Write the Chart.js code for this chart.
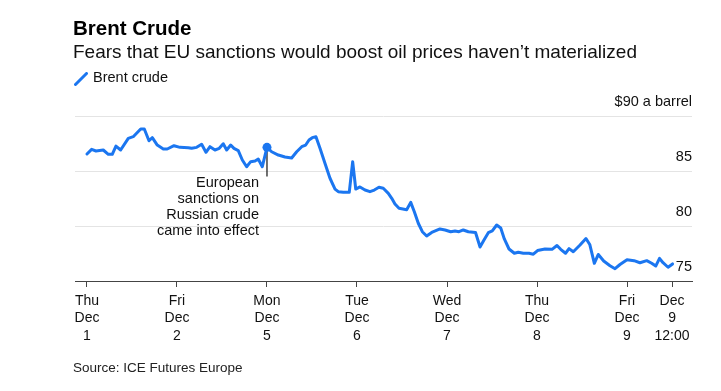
<!DOCTYPE html>
<html>
<head>
<meta charset="utf-8">
<script src="https://cdn.jsdelivr.net/npm/chart.js@4.4.1/dist/chart.umd.min.js"></script>
<style>
html,body{margin:0;padding:0;background:#fff;width:721px;height:391px;overflow:hidden}
#wrap{position:relative;width:721px;height:391px;font-family:"Liberation Sans",Arial,sans-serif;color:#111}
#chart{position:absolute;left:0;top:0}
.t{position:absolute;left:74px;white-space:nowrap;line-height:1}
#title{top:17.5px;left:73px;font-size:20.5px;font-weight:bold;color:#000}
#sub{top:42px;left:73px;font-size:19px}
#legend{top:70px;left:93px;font-size:14.5px}
#legicon{position:absolute;left:74px;top:72px}
#source{top:361px;left:73px;font-size:13.5px;color:#222}
</style>
</head>
<body>
<div id="wrap">
  <canvas id="chart" width="721" height="391"></canvas>
  <div class="t" id="title">Brent Crude</div>
  <div class="t" id="sub">Fears that EU sanctions would boost oil prices haven’t materialized</div>
  <svg id="legicon" width="14" height="14"><line x1="1.5" y1="12.5" x2="12.5" y2="1.5" stroke="#1b76f0" stroke-width="3" stroke-linecap="round"/></svg>
  <div class="t" id="legend">Brent crude</div>
  <div class="t" id="source">Source: ICE Futures Europe</div>
</div>
<script>
// x positions in trading-day units (0 = Thu Dec 1, 1 = Fri Dec 2, 2 = Mon Dec 5, ... 6 = Fri Dec 9)
const days = [0.000,0.052,0.100,0.181,0.237,0.281,0.322,0.374,0.459,0.514,0.597,0.637,0.689,0.726,0.781,0.848,0.892,0.967,
  1.033,1.126,1.163,1.219,1.274,1.322,1.367,1.422,1.470,1.514,1.552,1.597,1.633,1.681,1.726,1.774,1.819,1.867,1.903,1.948,
  2.000,2.052,2.126,2.200,2.274,2.330,2.386,2.430,2.467,2.503,2.544,2.589,2.644,2.700,2.756,2.792,2.848,2.914,2.952,2.986,
  3.033,3.089,3.144,3.192,3.244,3.292,3.348,3.386,3.422,3.467,3.552,3.597,3.637,3.681,3.726,3.774,3.830,3.922,3.978,
  4.041,4.089,4.133,4.181,4.237,4.317,4.367,4.411,4.459,4.503,4.552,4.597,4.637,4.689,4.748,4.792,4.848,4.911,4.959,
  5.006,5.089,5.167,5.222,5.263,5.317,5.356,5.403,5.478,5.544,5.586,5.637,5.681,5.741,5.811,5.867,5.922,
  6.000,6.078,6.144,6.219,6.274,6.319,6.361,6.400,6.456,6.506];
const prices = [86.55,86.97,86.82,86.91,86.52,86.52,87.27,86.91,87.97,88.12,88.82,88.82,87.75,88.03,87.36,87.00,87.00,87.30,
  87.15,87.12,87.06,87.15,87.43,86.70,87.21,86.91,87.06,87.48,86.91,87.36,87.06,86.86,86.00,85.39,85.85,85.91,86.09,85.39,
  87.15,86.75,86.45,86.27,86.18,86.75,87.21,87.36,87.82,88.03,88.12,87.06,85.70,84.34,83.36,83.12,83.06,83.06,85.85,83.36,
  83.55,83.27,83.12,83.27,83.52,83.43,82.97,82.52,82.00,81.61,81.48,82.15,81.30,80.25,79.48,79.09,79.41,79.73,79.64,
  79.48,79.55,79.48,79.64,79.48,79.41,78.09,78.73,79.39,79.55,80.09,79.82,78.82,77.91,77.52,77.61,77.52,77.52,77.44,
  77.77,77.91,77.88,78.23,77.88,77.52,77.94,77.66,78.27,78.86,78.32,76.61,77.41,76.82,76.39,76.12,76.50,
  76.94,76.85,76.66,76.85,76.61,76.36,77.06,76.66,76.25,76.55];

const tickDays = [0, 1, 2, 3, 4, 5, 6, 6.5];
const tickLabels = [['Thu','Dec','1'],['Fri','Dec','2'],['Mon','Dec','5'],['Tue','Dec','6'],
  ['Wed','Dec','7'],['Thu','Dec','8'],['Fri','Dec','9'],['Dec','9','12:00']];
const yTicks = [75, 80, 85, 90];
const yTickLabels = ['75', '80', '85', '$90 a barrel'];

const annotationDay = 2;
const annotationLineEnd = 84.5;
const annotationLines = ['European', 'sanctions on', 'Russian crude', 'came into effect'];

const BLUE = '#1b76f0';
const FONT = '"Liberation Sans", Arial, sans-serif';
const annIdx = days.indexOf(annotationDay);

const notePlugin = {
  id: 'sanctionNote',
  beforeDatasetsDraw(chart) {
    const {ctx, scales: {x, y}} = chart;
    const px = x.getPixelForValue(days[annIdx]);
    const py = y.getPixelForValue(prices[annIdx]);
    const ey = y.getPixelForValue(annotationLineEnd);
    ctx.save();
    ctx.strokeStyle = '#111';
    ctx.lineWidth = 1.2;
    ctx.beginPath();
    ctx.moveTo(px, py);
    ctx.lineTo(px, ey);
    ctx.stroke();
    ctx.restore();
  },
  afterDatasetsDraw(chart) {
    const {ctx, scales: {x, y}} = chart;
    const px = x.getPixelForValue(days[annIdx]);
    const ey = y.getPixelForValue(annotationLineEnd);
    ctx.save();
    ctx.font = '14.5px ' + FONT;
    ctx.fillStyle = '#111';
    ctx.textAlign = 'right';
    ctx.textBaseline = 'alphabetic';
    annotationLines.forEach((t, k) => ctx.fillText(t, px - 8, ey + 10 + k * 16));
    ctx.restore();
  }
};

new Chart(document.getElementById('chart'), {
  type: 'line',
  data: {
    datasets: [{
      label: 'Brent crude',
      data: days.map((d, i) => ({x: d, y: prices[i]})),
      borderColor: BLUE,
      backgroundColor: BLUE,
      borderWidth: 3,
      borderJoinStyle: 'round',
      borderCapStyle: 'round',
      tension: 0,
      pointRadius: c => c.dataIndex === annIdx ? 4.5 : 0,
      pointBorderWidth: 0,
      pointHoverRadius: 0
    }]
  },
  options: {
    responsive: false,
    animation: false,
    events: [],
    layout: {padding: {left: 75, right: 29, top: 116, bottom: 0}},
    plugins: {legend: {display: false}, tooltip: {enabled: false}},
    scales: {
      x: {
        type: 'linear', min: -0.133, max: 6.722,
        afterBuildTicks: s => { s.ticks = tickDays.map(v => ({value: v})); },
        afterFit: s => { s.height = 110; },
        grid: {drawOnChartArea: false, drawTicks: true, tickLength: 6, color: '#444', lineWidth: 1},
        border: {display: true, color: '#444', width: 1},
        ticks: {
          autoSkip: false, maxRotation: 0, minRotation: 0, padding: 5, color: '#111',
          font: {family: FONT, size: 14, lineHeight: 1.25},
          callback: v => { const i = tickDays.indexOf(v); return i >= 0 ? tickLabels[i] : ''; }
        }
      },
      y: {
        position: 'right', min: 75, max: 90,
        afterBuildTicks: s => { s.ticks = yTicks.map(v => ({value: v})); },
        afterFit: s => { s.width = 0; },
        grid: {drawTicks: false, lineWidth: 1, color: c => (c.tick && c.tick.value === 75) ? 'rgba(0,0,0,0)' : '#e4e4e4'},
        border: {display: false},
        ticks: {
          mirror: true, padding: 0, labelOffset: -14, color: '#111',
          font: {family: FONT, size: 14.5},
          callback: v => { const i = yTicks.indexOf(v); return i >= 0 ? yTickLabels[i] : ''; }
        }
      }
    }
  },
  plugins: [notePlugin]
});
</script>
</body>
</html>
